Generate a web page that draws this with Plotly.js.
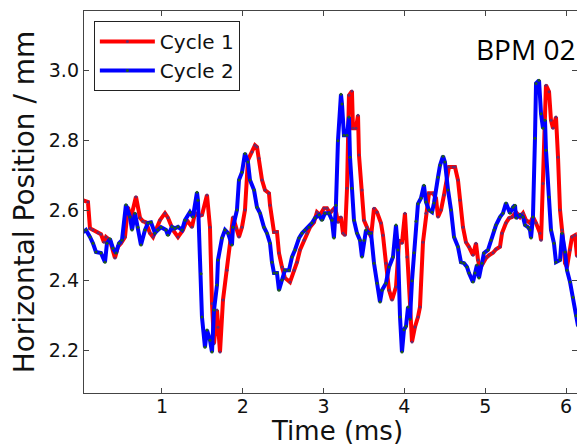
<!DOCTYPE html>
<html>
<head>
<meta charset="utf-8">
<script src="https://cdn.plot.ly/plotly-3.0.1.min.js"></script>
<style>html,body{margin:0;padding:0;background:#fff;}#chart{width:577px;height:448px;}</style>
</head>
<body>
<div id="chart"></div>
<script>
// Cycle 1 (red) — time in ms, horizontal position in mm
const cycle1Time = [0.022,0.084,0.109,0.146,0.208,0.245,0.282,0.307,0.356,0.418,0.455,0.493,0.542,0.579,0.616,0.678,0.728,0.765,0.802,0.851,0.889,0.926,0.975,1.037,1.074,1.136,1.198,1.260,1.309,1.371,1.408,1.458,1.495,1.557,1.594,1.619,1.644,1.681,1.693,1.718,1.755,1.804,1.842,1.879,1.916,1.953,1.990,2.027,2.064,2.114,2.151,2.176,2.200,2.238,2.275,2.324,2.337,2.386,2.423,2.448,2.485,2.522,2.584,2.634,2.671,2.708,2.757,2.794,2.832,2.881,2.918,2.955,3.005,3.042,3.079,3.104,3.144,3.178,3.215,3.240,3.265,3.290,3.314,3.351,3.364,3.401,3.426,3.438,3.475,3.500,3.537,3.587,3.624,3.661,3.710,3.735,3.772,3.810,3.847,3.896,3.935,3.970,4.007,4.032,4.069,4.094,4.131,4.168,4.193,4.230,4.267,4.304,4.354,4.391,4.416,4.453,4.490,4.515,4.552,4.601,4.626,4.663,4.688,4.725,4.762,4.799,4.849,4.886,4.911,4.936,4.973,5.010,5.047,5.097,5.134,5.183,5.208,5.257,5.295,5.332,5.381,5.431,5.468,5.505,5.554,5.591,5.629,5.678,5.691,5.715,5.740,5.752,5.790,5.814,5.839,5.876,5.901,5.926,5.951,5.988,6.012,6.050,6.074,6.111,6.136];
const cycle1Pos = [2.63,2.625,2.55,2.545,2.537,2.533,2.51,2.525,2.516,2.465,2.497,2.507,2.525,2.61,2.58,2.64,2.58,2.57,2.567,2.536,2.525,2.545,2.573,2.593,2.58,2.545,2.525,2.545,2.573,2.553,2.593,2.585,2.588,2.645,2.553,2.335,2.22,2.316,2.267,2.196,2.345,2.43,2.507,2.582,2.55,2.525,2.553,2.602,2.745,2.768,2.787,2.782,2.75,2.688,2.659,2.65,2.616,2.539,2.539,2.479,2.439,2.408,2.396,2.43,2.453,2.488,2.516,2.536,2.553,2.567,2.596,2.588,2.607,2.607,2.593,2.60,2.61,2.567,2.582,2.536,2.53,2.664,2.93,2.942,2.836,2.836,2.873,2.759,2.659,2.573,2.553,2.525,2.607,2.596,2.565,2.53,2.45,2.373,2.345,2.382,2.516,2.507,2.593,2.468,2.336,2.225,2.268,2.296,2.325,2.51,2.593,2.65,2.65,2.636,2.582,2.602,2.645,2.678,2.725,2.725,2.725,2.688,2.63,2.553,2.51,2.497,2.473,2.507,2.459,2.436,2.45,2.465,2.473,2.48,2.49,2.497,2.536,2.565,2.579,2.582,2.596,2.582,2.593,2.573,2.565,2.582,2.565,2.536,2.516,2.678,2.85,2.959,2.94,2.859,2.836,2.868,2.753,2.602,2.545,2.45,2.439,2.488,2.525,2.53,2.47];

// Cycle 2 (blue)
const cycle2Time = [0.022,0.059,0.109,0.146,0.183,0.245,0.295,0.319,0.356,0.393,0.431,0.468,0.505,0.554,0.604,0.629,0.666,0.703,0.740,0.790,0.827,0.864,0.913,0.950,0.988,1.050,1.074,1.124,1.161,1.198,1.248,1.285,1.346,1.383,1.433,1.445,1.483,1.495,1.532,1.557,1.594,1.619,1.644,1.681,1.693,1.743,1.780,1.817,1.866,1.879,1.928,1.953,1.990,2.027,2.064,2.089,2.139,2.176,2.213,2.262,2.299,2.337,2.361,2.386,2.423,2.448,2.485,2.522,2.572,2.609,2.646,2.696,2.733,2.770,2.819,2.856,2.893,2.943,2.980,3.017,3.066,3.104,3.128,3.153,3.178,3.215,3.228,3.252,3.290,3.314,3.327,3.351,3.376,3.413,3.450,3.475,3.500,3.525,3.562,3.587,3.624,3.661,3.698,3.723,3.772,3.810,3.859,3.896,3.921,3.946,3.970,3.995,4.020,4.045,4.069,4.094,4.119,4.144,4.168,4.205,4.242,4.267,4.304,4.342,4.366,4.416,4.441,4.478,4.502,4.540,4.577,4.614,4.663,4.700,4.738,4.775,4.799,4.849,4.874,4.898,4.923,4.960,4.985,5.035,5.072,5.109,5.134,5.183,5.220,5.257,5.307,5.344,5.369,5.381,5.431,5.468,5.493,5.530,5.554,5.567,5.591,5.616,5.629,5.666,5.691,5.715,5.740,5.752,5.790,5.814,5.851,5.876,5.926,5.951,5.988,6.012,6.050,6.087,6.124,6.149];
const cycle2Pos = [2.539,2.545,2.525,2.507,2.482,2.479,2.453,2.507,2.52,2.493,2.479,2.507,2.516,2.617,2.582,2.545,2.593,2.553,2.502,2.545,2.565,2.567,2.536,2.545,2.553,2.545,2.53,2.554,2.55,2.554,2.545,2.573,2.596,2.582,2.653,2.63,2.42,2.296,2.21,2.259,2.23,2.196,2.316,2.388,2.459,2.522,2.545,2.536,2.502,2.553,2.602,2.688,2.71,2.764,2.739,2.688,2.659,2.61,2.593,2.553,2.536,2.507,2.453,2.422,2.422,2.373,2.402,2.43,2.43,2.468,2.488,2.522,2.536,2.545,2.553,2.565,2.579,2.588,2.573,2.593,2.593,2.573,2.522,2.616,2.8,2.933,2.905,2.816,2.816,2.868,2.753,2.664,2.573,2.536,2.516,2.468,2.516,2.545,2.536,2.536,2.45,2.393,2.339,2.373,2.393,2.439,2.468,2.559,2.488,2.296,2.196,2.26,2.27,2.325,2.29,2.40,2.48,2.57,2.62,2.636,2.673,2.625,2.602,2.596,2.622,2.696,2.73,2.756,2.739,2.659,2.602,2.525,2.497,2.453,2.45,2.439,2.422,2.396,2.422,2.445,2.408,2.45,2.479,2.488,2.516,2.545,2.559,2.582,2.593,2.622,2.593,2.61,2.616,2.579,2.588,2.582,2.559,2.553,2.545,2.522,2.582,2.807,2.964,2.973,2.877,2.836,2.859,2.773,2.639,2.545,2.507,2.453,2.459,2.536,2.482,2.43,2.396,2.353,2.30,2.27];

const seriesNames = ['Cycle 1', 'Cycle 2'];
const xTicks = [1, 2, 3, 4, 5, 6];
const yTicks = [2.2, 2.4, 2.6, 2.8, 3.0];
const yTickText = ['2.2', '2.4', '2.6', '2.8', '3.0'];
const xTitle = 'Time (ms)';
const yTitle = 'Horizontal Position / mm';
const panelLabel = 'BPM 02';

const traces = [
  {x: cycle1Time, y: cycle1Pos, name: seriesNames[0], type: 'scatter', mode: 'lines+markers',
   line: {color: '#ff0000', width: 4}, marker: {color: '#6a2a6a', size: 3}},
  {x: cycle2Time, y: cycle2Pos, name: seriesNames[1], type: 'scatter', mode: 'lines+markers',
   line: {color: '#0000ff', width: 4}, marker: {color: '#1f5a1f', size: 3}}
];

const axisCommon = {
  showgrid: false, zeroline: false, showline: true, mirror: 'ticks',
  linecolor: '#444', linewidth: 1.2, ticks: 'inside', ticklen: 5, tickcolor: '#444',
  tickfont: {family: 'DejaVu Sans', size: 19, color: '#111'}
};

const layout = {
  width: 577, height: 448,
  margin: {l: 84, r: 0, t: 11, b: 55},
  paper_bgcolor: '#ffffff', plot_bgcolor: '#ffffff',
  showlegend: true,
  legend: {x: 0.02, y: 0.974, xanchor: 'left', yanchor: 'top',
           bordercolor: '#222', borderwidth: 1, bgcolor: '#ffffff',
           itemwidth: 55,
           font: {family: 'DejaVu Sans', size: 20, color: '#111'}},
  xaxis: Object.assign({}, axisCommon, {
    range: [0.035, 6.136], tickvals: xTicks, ticktext: xTicks.map(String),
    ticklabelstandoff: -4
  }),
  yaxis: Object.assign({}, axisCommon, {
    range: [2.079, 3.171], tickvals: yTicks, ticktext: yTickText,
    title: {text: yTitle, font: {family: 'DejaVu Sans', size: 28, color: '#111'}, standoff: 6}
  }),
  annotations: [
    {text: panelLabel, xref: 'paper', yref: 'paper', x: 1, y: 0.90,
     xanchor: 'right', yanchor: 'middle', showarrow: false,
     font: {family: 'Open Sans', size: 28, color: '#000'}},
    {text: xTitle, xref: 'paper', yref: 'paper', x: 0.513, y: -0.1414,
     xanchor: 'center', yanchor: 'bottom', showarrow: false, borderpad: 0,
     font: {family: 'DejaVu Sans', size: 26, color: '#111'}}
  ]
};

Plotly.newPlot('chart', traces, layout, {displayModeBar: false, staticPlot: true});
</script>
</body>
</html>
